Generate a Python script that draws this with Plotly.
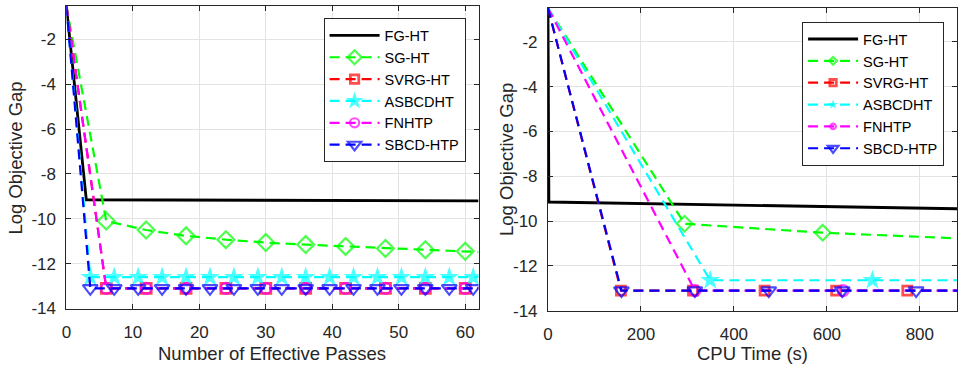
import plotly.graph_objects as go

# ---------------- data: left panel (effective passes) ----------------
fg_pass_x = [0, 3, 62]
fg_pass_y = [-0.5, -9.15, -9.2]

sg_pass_x = [0, 6, 12, 18, 24, 30, 36, 42, 48, 54, 60, 62]
sg_pass_y = [-0.5, -10.1, -10.5, -10.76, -10.93, -11.06, -11.15, -11.23, -11.32, -11.38, -11.45, -11.48]

svrg_pass_x = [0, 6, 12, 18, 24, 30, 36, 42, 48, 54, 60, 62]
svrg_pass_y = [-0.5, -13.1, -13.1, -13.1, -13.1, -13.1, -13.1, -13.1, -13.1, -13.1, -13.1, -13.1]

asb_pass_x = [0, 3.6, 7.2, 10.8, 14.4, 18.0, 21.6, 25.2, 28.8, 32.4, 36.0, 39.6, 43.2, 46.8,
              50.4, 54.0, 57.6, 61.2, 62]
asb_pass_y = [-0.5] + [-12.6] * 18

fnh_pass_x = [0, 6, 12, 18, 24, 30, 36, 42, 48, 54, 60, 62]
fnh_pass_y = [-0.5] + [-13.1] * 11

sbcd_pass_x = [0, 3.6, 7.2, 10.8, 14.4, 18.0, 21.6, 25.2, 28.8, 32.4, 36.0, 39.6, 43.2, 46.8,
               50.4, 54.0, 57.6, 61.2, 62]
sbcd_pass_y = [-0.5] + [-13.1] * 18

# ---------------- data: right panel (CPU time) ----------------
fg_cpu_x = [0, 2, 880]
fg_cpu_y = [-0.5, -9.15, -9.45]

sg_cpu_x = [0, 294, 591, 880]
sg_cpu_y = [-0.5, -10.12, -10.52, -10.77]

svrg_cpu_x = [0, 157, 312, 466, 620, 773, 880]
svrg_cpu_y = [-0.5, -13.1, -13.1, -13.1, -13.1, -13.1, -13.1]

asb_cpu_x = [0, 349, 698, 880]
asb_cpu_y = [-0.5, -12.64, -12.64, -12.64]

fnh_cpu_x = [0, 316, 635, 880]
fnh_cpu_y = [-0.5, -13.1, -13.1, -13.1]

sbcd_cpu_x = [0, 158, 316, 475, 633, 792, 880]
sbcd_cpu_y = [-0.5, -13.1, -13.1, -13.1, -13.1, -13.1, -13.1]

names = ["FG-HT", "SG-HT", "SVRG-HT", "ASBCDHT", "FNHTP", "SBCD-HTP"]
y_tickvals = [-14, -12, -10, -8, -6, -4, -2]
y_ticktext = ["-14", "-12", "-10", "-8", "-6", "-4", "-2"]
x_pass_ticks = [0, 10, 20, 30, 40, 50, 60]
x_cpu_ticks = [0, 200, 400, 600, 800]

colors = ["#000000", "#00ff00", "#ff0000", "#00ffff", "#ff00ff", "#0000ff"]
symbols = [None, "diamond-open", "square-open", "star", "circle-open", "triangle-down-open"]

FONT = "Liberation Sans, Arial, sans-serif"
DASH = "10px,6px"

fig = go.Figure()

left = [(fg_pass_x, fg_pass_y), (sg_pass_x, sg_pass_y), (svrg_pass_x, svrg_pass_y),
        (asb_pass_x, asb_pass_y), (fnh_pass_x, fnh_pass_y), (sbcd_pass_x, sbcd_pass_y)]
right = [(fg_cpu_x, fg_cpu_y), (sg_cpu_x, sg_cpu_y), (svrg_cpu_x, svrg_cpu_y),
         (asb_cpu_x, asb_cpu_y), (fnh_cpu_x, fnh_cpu_y), (sbcd_cpu_x, sbcd_cpu_y)]

left_sizes = [0, 13, 10, 15, 11, 13]
right_sizes = [0, 12, 9, 15, 11, 13]


def add_series(data, sizes, xa, ya, legend):
    for i, (xs, ys) in enumerate(data):
        if i == 0:
            fig.add_trace(go.Scatter(x=xs, y=ys, mode="lines", name=names[i],
                                     line=dict(color=colors[i], width=2.8),
                                     xaxis=xa, yaxis=ya, legend=legend))
        else:
            n = len(xs)
            msize = [0] + [sizes[i]] * (n - 2) + [0]
            mk = dict(symbol=symbols[i], size=msize, color=colors[i],
                      line=dict(color=colors[i], width=2.2))
            if symbols[i] == "star":
                mk["line"] = dict(color=colors[i], width=0)
            if symbols[i] == "square-open":
                mk["line"] = dict(color=colors[i], width=2.8)
            fig.add_trace(go.Scatter(x=xs, y=ys, mode="lines+markers", name=names[i],
                                     line=dict(color=colors[i], width=2.2, dash=DASH),
                                     marker=mk, xaxis=xa, yaxis=ya, legend=legend))


add_series(left, left_sizes, "x", "y", "legend")
add_series(right, right_sizes, "x2", "y2", "legend2")

W, H = 962, 373
axis_common = dict(showline=True, linecolor="#262626", linewidth=1, mirror="ticks",
                   ticks="inside", ticklen=5, tickcolor="#262626",
                   showgrid=True, gridcolor="#e3e3e3", gridwidth=1, zeroline=False,
                   tickfont=dict(family=FONT, size=17, color="#262626"))

fig.update_layout(
    width=W, height=H,
    margin=dict(l=0, r=0, t=0, b=0),
    paper_bgcolor="white", plot_bgcolor="white",
    font=dict(family=FONT, color="#262626"),
    xaxis=dict(domain=[61.7 / W, 476 / W], range=[0, 62], tickvals=x_pass_ticks,
               anchor="y", ticklabelstandoff=8, **axis_common),
    yaxis=dict(domain=[1 - 317 / H, 1 - 6 / H], range=[-14, -0.5], tickvals=y_tickvals,
               ticktext=y_ticktext, anchor="x", ticklabelstandoff=6, **axis_common),
    xaxis2=dict(domain=[545.8 / W, 957 / W], range=[0, 880], tickvals=x_cpu_ticks,
                anchor="y2", ticklabelstandoff=8, **axis_common),
    yaxis2=dict(domain=[1 - 319.3 / H, 1 - 8.3 / H], range=[-14, -0.5], tickvals=y_tickvals,
                ticktext=y_ticktext, anchor="x2", ticklabelstandoff=6, **axis_common),
    legend=dict(x=463 / W, y=1 - 19 / H, xanchor="right", yanchor="top",
                bgcolor="white", bordercolor="#262626", borderwidth=1,
                font=dict(family=FONT, size=14.5, color="#000000"), itemwidth=50,
                tracegroupgap=0),
    legend2=dict(x=944 / W, y=1 - 22.7 / H, xanchor="right", yanchor="top",
                 bgcolor="white", bordercolor="#262626", borderwidth=1,
                 font=dict(family=FONT, size=14.5, color="#000000"), itemwidth=50,
                 tracegroupgap=0),
    showlegend=True,
)

title_font = dict(family=FONT, size=18.5, color="#262626")
fig.add_annotation(text="Number of Effective Passes", x=(61.7 + 476) / 2 / W, y=1 - 363 / H,
                   xref="paper", yref="paper", showarrow=False, font=title_font,
                   xanchor="center", yanchor="middle")
fig.add_annotation(text="CPU Time (s)", x=(545.8 + 957) / 2 / W, y=1 - 363 / H,
                   xref="paper", yref="paper", showarrow=False, font=title_font,
                   xanchor="center", yanchor="middle")
fig.add_annotation(text="Log Objective Gap", x=11 / W, y=1 - 162 / H,
                   xref="paper", yref="paper", showarrow=False, font=title_font,
                   textangle=-90, xanchor="center", yanchor="middle")
fig.add_annotation(text="Log Objective Gap", x=504 / W, y=1 - 164 / H,
                   xref="paper", yref="paper", showarrow=False, font=title_font,
                   textangle=-90, xanchor="center", yanchor="middle")

fig.write_html("out.html", config={"displayModeBar": False},
               post_script="document.body.style.margin='0px';")
